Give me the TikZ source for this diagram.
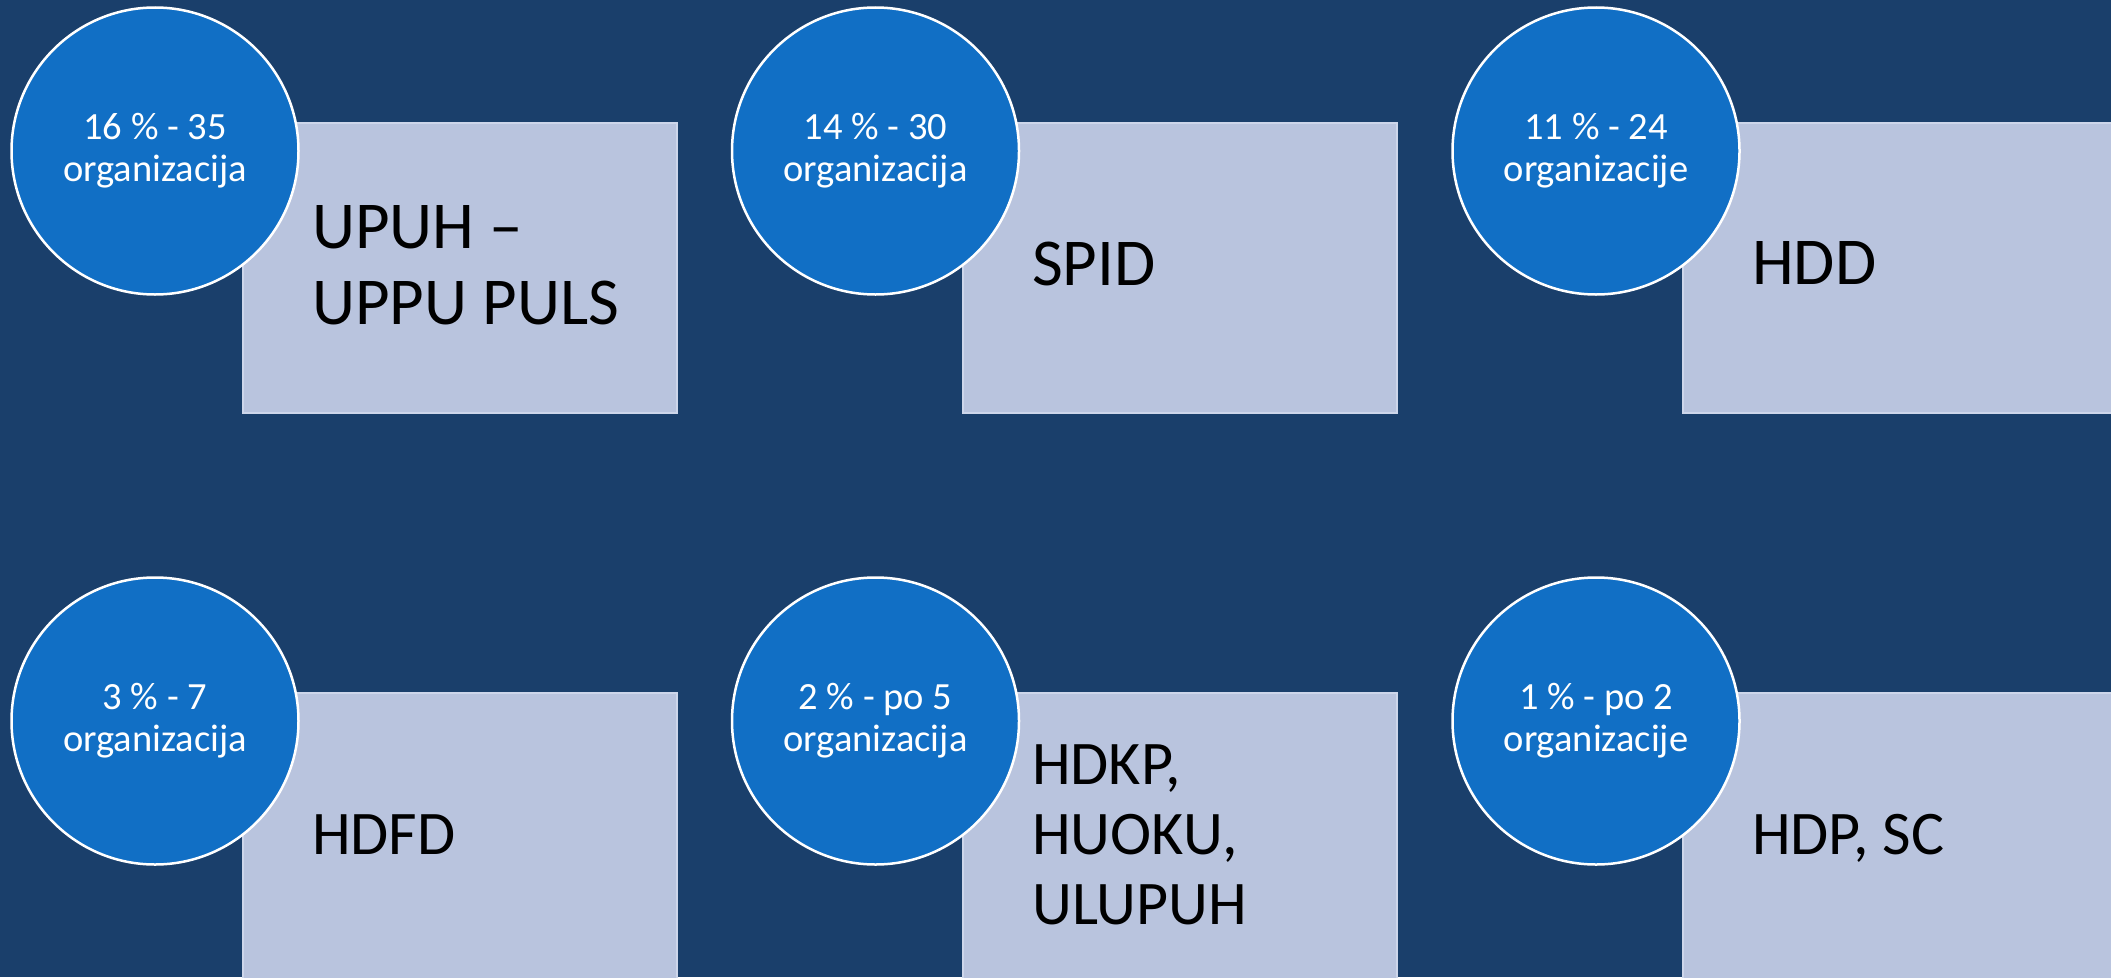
\documentclass[tikz,border=0pt]{standalone}
\usepackage{fontspec}
\setmainfont{Carlito}
\definecolor{bg}{RGB}{26,63,107}
\definecolor{circ}{RGB}{17,111,197}
\definecolor{boxf}{RGB}{185,196,222}
\definecolor{boxl}{RGB}{205,214,234}
\begin{document}
\begin{tikzpicture}[x=1pt,y=-1pt,
 bubble/.style={circle, fill=circ, draw=white, line width=2.5pt, minimum size=287pt, inner sep=0pt, text=white, align=center, font=\fontsize{38.5}{42}\selectfont},
 panel/.style={rectangle, fill=boxf, draw=boxl, line width=1.5pt, minimum width=434pt, minimum height=290pt, inner sep=0pt, anchor=north west},
 ptext/.style={anchor=west, inner sep=0pt, align=left, text=black},
 big/.style={font=\fontsize{67}{76}\selectfont},
 mid/.style={font=\fontsize{62}{70}\selectfont}]
\useasboundingbox (0,0) rectangle (2111,977);
\clip (0,0) rectangle (2111,977);
\fill[bg] (0,0) rectangle (2111,977);
% panels
\node[panel] (p1) at (242,122) {};
\node[panel] (p2) at (962,122) {};
\node[panel] (p3) at (1682,122) {};
\node[panel] (p4) at (242,692) {};
\node[panel] (p5) at (962,692) {};
\node[panel] (p6) at (1682,692) {};
% panel texts
\node[ptext,big] (t1) at (312,265) {UPUH --\\UPPU PULS};
\node[ptext,big] (t2) at (1032,263.5) {SPID};
\node[ptext,big] (t3) at (1752,263.5) {HDD};
\node[ptext,mid] (t4) at (312,834.5) {HDFD};
\node[ptext,mid] (t5) at (1032,835) {HDKP,\\HUOKU,\\ULUPUH};
\node[ptext,mid] (t6) at (1752,838.5) {HDP, SC};
% bubbles
\node[bubble] (c1) at (155,151) {16 \% - 35\\organizacija};
\node[bubble] (c2) at (875.5,151) {14 \% - 30\\organizacija};
\node[bubble] (c3) at (1596,151) {11 \% - 24\\organizacije};
\node[bubble] (c4) at (155,721) {3 \% - 7\\organizacija};
\node[bubble] (c5) at (875.5,721) {2 \% - po 5\\organizacija};
\node[bubble] (c6) at (1596,721) {1 \% - po 2\\organizacije};
\end{tikzpicture}
\end{document}
